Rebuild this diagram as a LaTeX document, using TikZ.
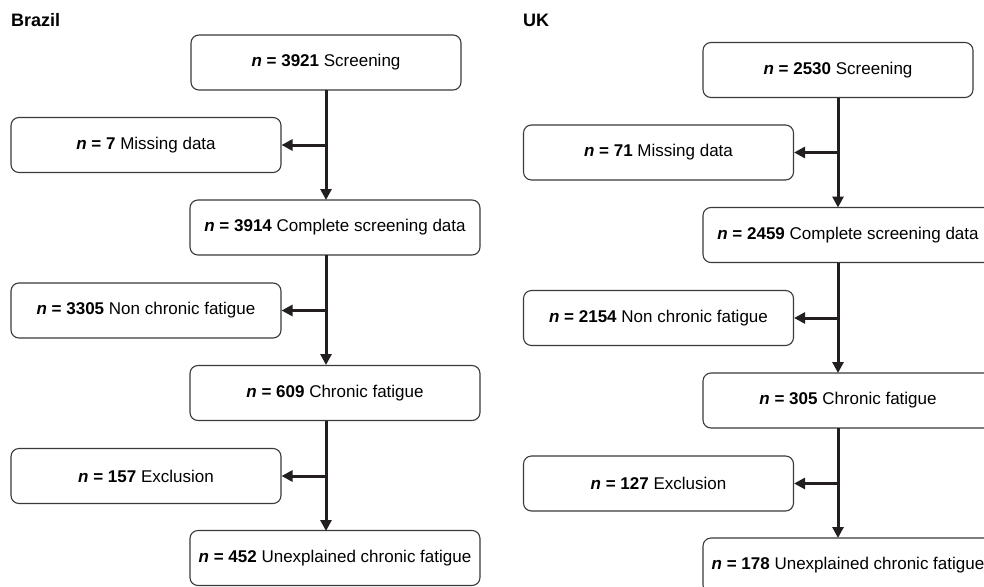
\documentclass[tikz,border=0pt]{standalone}
\usepackage{fontspec}
\setmainfont{Liberation Sans}
\usetikzlibrary{arrows.meta}
\definecolor{ink}{HTML}{231F20}
\definecolor{edge}{HTML}{3A3A3A}
\begin{document}
\begin{tikzpicture}[x=1pt,y=-1pt,
  box/.style={draw=edge, line width=1.1pt, rounded corners=8pt, fill=white,
    minimum height=55pt, inner sep=0pt, font=\fontsize{17}{20}\selectfont, text=black},
  narrow/.style={box, minimum width=270pt},
  wide/.style={box, minimum width=290pt},
  flow/.style={draw=ink, line width=3pt, -{Triangle[length=11pt,width=11pt]}},
  title/.style={anchor=base west, inner sep=0pt, font=\fontsize{18}{20}\selectfont\bfseries}]
\useasboundingbox (0,0) rectangle (984,586);
\clip (0,0) rectangle (984,586);
% ---------------- Brazil ----------------
\node[title] (tb) at (11,27) {Brazil};
\node[narrow] (b1) at (326,62.5) {\textbf{\textit{n} = 3921} Screening};
\node[narrow] (b2) at (146,145) {\textbf{\textit{n} = 7} Missing data};
\node[wide]   (b3) at (335,227.5) {\textbf{\textit{n} = 3914} Complete screening data};
\node[narrow] (b4) at (146,310.5) {\textbf{\textit{n} = 3305} Non chronic fatigue};
\node[wide]   (b5) at (335,393) {\textbf{\textit{n} = 609} Chronic fatigue};
\node[narrow] (b6) at (146,476) {\textbf{\textit{n} = 157} Exclusion};
\node[wide]   (b7) at (335,558) {\textbf{\textit{n} = 452} Unexplained chronic fatigue};
\coordinate (bs1) at (326,90);
\coordinate (be1) at (326,200);
\coordinate (bs2) at (326,255);
\coordinate (be2) at (326,365);
\coordinate (bs3) at (326,421);
\coordinate (be3) at (326,531);
\coordinate (bj1) at (bs1 |- b2.east);
\coordinate (bj2) at (bs2 |- b4.east);
\coordinate (bj3) at (bs3 |- b6.east);
\draw[flow] (bs1) -- (be1);
\draw[flow] (bj1) -- (b2.east);
\draw[flow] (bs2) -- (be2);
\draw[flow] (bj2) -- (b4.east);
\draw[flow] (bs3) -- (be3);
\draw[flow] (bj3) -- (b6.east);
% ---------------- UK ----------------
\node[title] (tu) at (523,27) {UK};
\node[narrow] (u1) at (838,70) {\textbf{\textit{n} = 2530} Screening};
\node[narrow] (u2) at (658.5,152.5) {\textbf{\textit{n} = 71} Missing data};
\node[wide]   (u3) at (848,235) {\textbf{\textit{n} = 2459} Complete screening data};
\node[narrow] (u4) at (658.5,318) {\textbf{\textit{n} = 2154} Non chronic fatigue};
\node[wide]   (u5) at (848,400.5) {\textbf{\textit{n} = 305} Chronic fatigue};
\node[narrow] (u6) at (658.5,483.5) {\textbf{\textit{n} = 127} Exclusion};
\node[wide]   (u7) at (848,565.5) {\textbf{\textit{n} = 178} Unexplained chronic fatigue};
\coordinate (us1) at (838,97.5);
\coordinate (ue1) at (838,207.5);
\coordinate (us2) at (838,262.5);
\coordinate (ue2) at (838,373);
\coordinate (us3) at (838,428);
\coordinate (ue3) at (838,538);
\coordinate (uj1) at (us1 |- u2.east);
\coordinate (uj2) at (us2 |- u4.east);
\coordinate (uj3) at (us3 |- u6.east);
\draw[flow] (us1) -- (ue1);
\draw[flow] (uj1) -- (u2.east);
\draw[flow] (us2) -- (ue2);
\draw[flow] (uj2) -- (u4.east);
\draw[flow] (us3) -- (ue3);
\draw[flow] (uj3) -- (u6.east);
\end{tikzpicture}
\end{document}
